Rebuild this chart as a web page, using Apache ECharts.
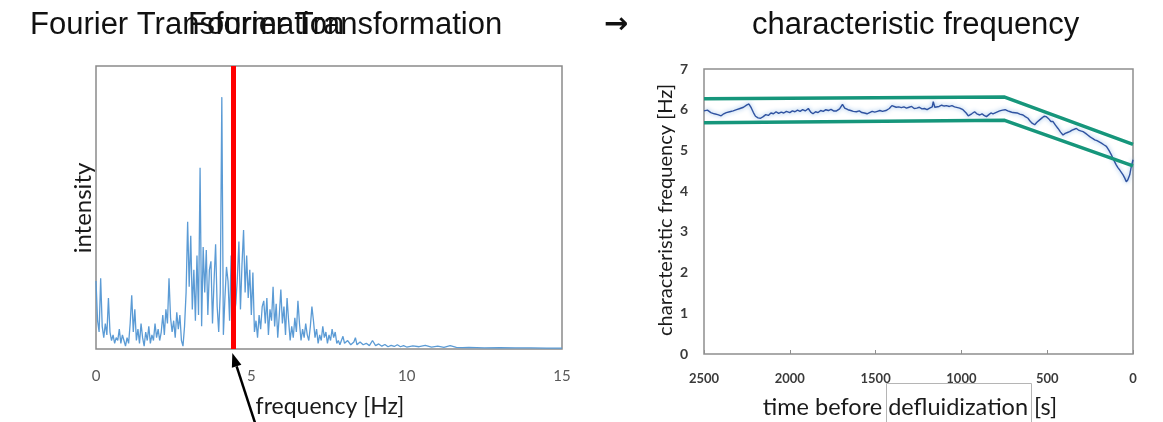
<!DOCTYPE html>
<html>
<head>
<meta charset="utf-8">
<script src="https://cdn.jsdelivr.net/npm/echarts@6.0.0/dist/echarts.min.js"></script>
<style>
  html, body { margin: 0; padding: 0; background: #fff; }
  #chart { width: 1163px; height: 422px; }
</style>
</head>
<body>
<div id="chart"></div>
<script>
// Spectrum of the pressure signal: [frequency in Hz, intensity in arbitrary units]
const spectrum = [
  [0.00,24],[0.05,10],[0.10,6],[0.15,25],[0.20,8],[0.25,4],[0.30,9],[0.35,5],[0.40,18],[0.45,6],
  [0.50,3],[0.55,5],[0.60,2],[0.65,4],[0.70,3],[0.75,7],[0.80,2],[0.85,5],[0.90,3],[0.95,1],
  [1.00,4],[1.05,2],[1.10,9],[1.15,19],[1.20,6],[1.25,14],[1.30,3],[1.35,7],[1.40,2],[1.45,9],
  [1.50,4],[1.55,1],[1.60,6],[1.65,3],[1.70,8],[1.75,2],[1.80,5],[1.85,3],[1.90,9],[1.95,4],
  [2.00,7],[2.05,3],[2.10,6],[2.15,12],[2.20,5],[2.25,14],[2.30,9],[2.35,25],[2.40,11],[2.45,6],
  [2.50,10],[2.55,4],[2.60,13],[2.65,7],[2.70,12],[2.75,3],[2.80,1],[2.85,8],[2.90,20],[2.95,45],
  [3.00,22],[3.05,40],[3.10,14],[3.15,28],[3.20,10],[3.25,33],[3.30,12],[3.35,64],[3.40,8],[3.45,36],
  [3.50,20],[3.55,35],[3.60,12],[3.65,28],[3.70,31],[3.75,9],[3.80,24],[3.85,37],[3.90,15],[3.95,6],
  [4.00,20],[4.05,89],[4.10,5],[4.15,18],[4.20,29],[4.25,24],[4.30,10],[4.35,33],[4.40,20],[4.45,12],
  [4.50,16],[4.55,25],[4.60,38],[4.65,14],[4.70,30],[4.75,42],[4.80,20],[4.85,33],[4.90,18],[4.95,28],
  [5.00,12],[5.05,27],[5.10,6],[5.15,10],[5.20,4],[5.25,12],[5.30,7],[5.35,15],[5.40,17],[5.45,9],
  [5.50,18],[5.55,5],[5.60,14],[5.65,10],[5.70,22],[5.75,8],[5.80,16],[5.85,4],[5.90,12],[5.95,21],
  [6.00,9],[6.05,15],[6.10,5],[6.15,18],[6.20,10],[6.25,3],[6.30,8],[6.35,4],[6.40,11],[6.45,6],
  [6.50,17],[6.55,9],[6.60,3],[6.65,7],[6.70,4],[6.75,9],[6.80,5],[6.85,3],[6.90,8],[6.95,15],
  [7.00,10],[7.05,4],[7.10,7],[7.15,2],[7.20,5],[7.25,3],[7.30,8],[7.35,4],[7.40,6],[7.45,2],
  [7.50,5],[7.55,3],[7.60,7],[7.65,4],[7.70,6],[7.75,2],[7.80,3],[7.85,1.5],[7.90,3],[7.95,4.5],
  [8.00,2],[8.10,3],[8.20,1.5],[8.30,2.5],[8.35,4],[8.40,1.5],[8.50,2.5],[8.60,1.5],[8.70,2],[8.80,1.2],
  [8.90,3],[9.00,1.2],[9.10,1.8],[9.20,1],[9.30,1.6],[9.40,0.8],[9.50,1.3],[9.60,0.9],[9.70,1.5],[9.80,0.8],
  [9.90,1.2],[10.0,0.7],[10.2,1.1],[10.4,0.8],[10.6,1.3],[10.8,0.7],[11.0,1.0],[11.2,0.6],[11.4,1.2],[11.6,0.6],
  [11.8,0.5],[12.0,0.6],[12.5,0.4],[13.0,0.5],[13.5,0.4],[14.0,0.4],[14.5,0.3],[15.0,0.3]
];

// Dominant (characteristic) frequency marked in the spectrum, Hz
const characteristicHz = 4.42;

// Characteristic frequency over time: [time before defluidization in s, frequency in Hz]
const charFrequency = [
  [2500,5.97],[2480,5.99],[2460,5.93],[2440,5.9],[2420,5.88],[2400,5.85],[2385,5.9],[2370,5.93],[2350,5.95],[2330,5.97],
  [2310,6.0],[2290,6.03],[2270,6.06],[2250,6.12],[2238,6.14],[2225,6.05],[2212,5.93],[2200,5.84],[2185,5.8],[2170,5.79],
  [2155,5.83],[2140,5.88],[2125,5.86],[2110,5.92],[2095,5.9],[2080,5.95],[2065,5.91],[2050,5.94],[2035,5.92],[2020,5.96],
  [2000,5.93],[1985,5.97],[1970,5.95],[1955,5.99],[1940,5.96],[1925,6.0],[1910,5.97],[1892,6.03],[1878,5.94],[1865,5.9],
  [1850,5.95],[1835,5.93],[1820,5.98],[1805,5.96],[1790,6.0],[1775,5.98],[1760,6.01],[1745,5.97],[1728,5.97],[1710,6.02],
  [1693,6.13],[1680,6.04],[1661,6.0],[1645,5.98],[1630,5.96],[1612,5.95],[1595,5.97],[1580,5.93],[1565,5.92],[1550,5.9],
  [1535,5.93],[1520,5.96],[1505,5.94],[1490,5.96],[1475,5.98],[1460,5.96],[1440,5.98],[1420,6.03],[1405,6.1],[1395,6.08],
  [1380,6.06],[1365,6.07],[1350,6.05],[1335,6.07],[1320,6.04],[1305,6.06],[1290,6.08],[1275,6.03],[1260,6.04],[1245,6.06],
  [1230,6.02],[1215,6.03],[1200,6.0],[1185,6.04],[1170,6.07],[1164,6.2],[1155,6.06],[1146,6.1],[1130,6.08],[1115,6.11],
  [1100,6.09],[1087,6.1],[1070,6.08],[1055,6.1],[1040,6.07],[1029,6.08],[1010,6.04],[991,6.0],[972,5.92],[960,5.85],
  [952,5.82],[940,5.9],[923,5.95],[910,5.9],[893,5.87],[880,5.9],[868,5.86],[854,5.83],[840,5.88],[828,5.92],
  [816,5.9],[800,5.93],[790,5.96],[777,5.97],[760,5.99],[745,6.0],[730,5.97],[715,5.95],[700,5.93],[689,5.91],
  [675,5.92],[660,5.89],[641,5.87],[628,5.83],[612,5.79],[600,5.72],[588,5.67],[573,5.63],[560,5.69],[544,5.75],
  [530,5.8],[518,5.84],[505,5.83],[490,5.77],[478,5.71],[466,5.71],[452,5.62],[437,5.54],[422,5.45],[408,5.38],
  [395,5.42],[382,5.44],[369,5.46],[355,5.5],[342,5.52],[330,5.54],[318,5.5],[305,5.48],[291,5.46],[276,5.42],
  [264,5.38],[252,5.34],[238,5.3],[223,5.26],[210,5.24],[197,5.21],[184,5.18],[170,5.14],[155,5.1],[140,5.0],
  [126,4.89],[112,4.76],[97,4.64],[88,4.58],[78,4.52],[68,4.46],[58,4.4],[48,4.32],[39,4.23],[30,4.28],
  [19,4.4],[10,4.6],[0,4.77]
];

// Trend band around the characteristic frequency: [time in s, frequency in Hz]
const bandUpper = [[2500,6.27],[748,6.31],[0,5.15]];
const bandLower = [[2500,5.68],[748,5.74],[0,4.62]];

// Tick values
const freqTicks = { min: 0, max: 15, step: 5 };
const timeTicks = { min: 0, max: 2500, step: 500 };
const charTicks = { min: 0, max: 7, step: 1 };

const AXIS_FONT = 'Lato, "Open Sans", sans-serif';
const TITLE_FONT = '"Liberation Sans", Arial, "DejaVu Sans", sans-serif';

const chart = echarts.init(document.getElementById('chart'), null, { renderer: 'canvas' });

function titleText(text, x, font) {
  return {
    type: 'text', x: x, y: 25,
    style: { text: text, fill: '#111', font: font || ('31px ' + TITLE_FONT), verticalAlign: 'middle' }
  };
}

function axisText(text, x, y, size, vertical) {
  return {
    type: 'text', x: x, y: y, rotation: vertical ? Math.PI / 2 : 0,
    style: { text: text, fill: '#1a1a1a', font: size + 'px ' + AXIS_FONT, align: 'center', verticalAlign: 'middle' }
  };
}

const plainNumber = (v) => String(v);

chart.setOption({
  animation: false,
  backgroundColor: '#ffffff',
  grid: [
    { left: 96, top: 66, width: 466, height: 283, show: true, borderColor: '#8a8a8a', borderWidth: 1.5 },
    { left: 704, top: 69, width: 429, height: 285, show: true, borderColor: '#8f8f8f', borderWidth: 1.5 }
  ],
  xAxis: [
    {
      gridIndex: 0, type: 'value', min: freqTicks.min, max: freqTicks.max, interval: freqTicks.step,
      axisLine: { show: false }, axisTick: { show: false }, splitLine: { show: false },
      axisLabel: { color: '#595959', fontSize: 15, fontFamily: AXIS_FONT, margin: 20, formatter: plainNumber }
    },
    {
      gridIndex: 1, type: 'value', inverse: true, min: timeTicks.min, max: timeTicks.max, interval: timeTicks.step,
      axisLine: { show: false }, splitLine: { show: false },
      axisTick: { show: true, inside: true, length: 4, lineStyle: { color: '#8f8f8f', width: 1 } },
      axisLabel: { color: '#3a3a3a', fontSize: 13, fontWeight: 'bold', fontFamily: AXIS_FONT, margin: 18, formatter: plainNumber }
    }
  ],
  yAxis: [
    {
      gridIndex: 0, type: 'value', min: 0, max: 100,
      axisLine: { show: false }, axisTick: { show: false }, splitLine: { show: false },
      axisLabel: { show: false }
    },
    {
      gridIndex: 1, type: 'value', min: charTicks.min, max: charTicks.max, interval: charTicks.step,
      axisLine: { show: false }, axisTick: { show: false }, splitLine: { show: false },
      axisLabel: { color: '#3a3a3a', fontSize: 14, fontWeight: 'bold', fontFamily: AXIS_FONT, margin: 16, formatter: plainNumber }
    }
  ],
  series: [
    {
      type: 'line', xAxisIndex: 0, yAxisIndex: 0, data: spectrum,
      showSymbol: false, lineStyle: { color: '#5b9bd5', width: 1.3 },
      markLine: {
        silent: true, symbol: ['none', 'none'], label: { show: false },
        lineStyle: { color: '#ff0000', width: 5, type: 'solid' },
        data: [{ xAxis: characteristicHz }]
      }
    },
    {
      type: 'line', xAxisIndex: 1, yAxisIndex: 1, data: charFrequency,
      showSymbol: false,
      lineStyle: { color: '#2f52a0', width: 1.4, shadowColor: 'rgba(110,165,225,0.9)', shadowBlur: 4 }
    },
    {
      type: 'line', xAxisIndex: 1, yAxisIndex: 1, data: bandUpper,
      showSymbol: false, lineStyle: { color: '#16967b', width: 3.5 }
    },
    {
      type: 'line', xAxisIndex: 1, yAxisIndex: 1, data: bandLower,
      showSymbol: false, lineStyle: { color: '#16967b', width: 3.5 }
    }
  ]
});

// Arrow pointing at the base of the marked frequency
const base = chart.convertToPixel({ xAxisIndex: 0, yAxisIndex: 0 }, [characteristicHz, 0]);
const tip = [base[0] - 1, base[1] + 4];
const tail = [tip[0] + 26, tip[1] + 80];
const len = Math.hypot(tail[0] - tip[0], tail[1] - tip[1]);
const ux = (tail[0] - tip[0]) / len, uy = (tail[1] - tip[1]) / len;
const headLen = 14, headHalf = 5;
const hb = [tip[0] + ux * headLen, tip[1] + uy * headLen];
const head = [
  tip,
  [hb[0] - uy * headHalf, hb[1] + ux * headHalf],
  [hb[0] + uy * headHalf, hb[1] - ux * headHalf]
];

chart.setOption({
  graphic: [
    titleText('Fourier Transformation', 30),
    titleText('Fourier Transformation', 188),
    titleText('\u2192', 604, 'bold 29px "DejaVu Sans", sans-serif'),
    titleText('characteristic frequency', 752),
    axisText('intensity', 83, 208, 24, true),
    axisText('frequency [Hz]', 330, 407, 23, false),
    axisText('time before defluidization [s]', 910, 407, 23.5, false),
    axisText('characteristic frequency [Hz]', 666, 210, 20, true),
    {
      type: 'rect', shape: { x: 886.5, y: 383.5, width: 145, height: 60 },
      style: { fill: 'none', stroke: '#b5b5b5', lineWidth: 1 }
    },
    {
      type: 'line', shape: { x1: hb[0], y1: hb[1], x2: tail[0], y2: tail[1] },
      style: { stroke: '#000', lineWidth: 2.5 }, z: 100
    },
    {
      type: 'polygon', shape: { points: head }, style: { fill: '#000' }, z: 100
    }
  ]
});
</script>
</body>
</html>
